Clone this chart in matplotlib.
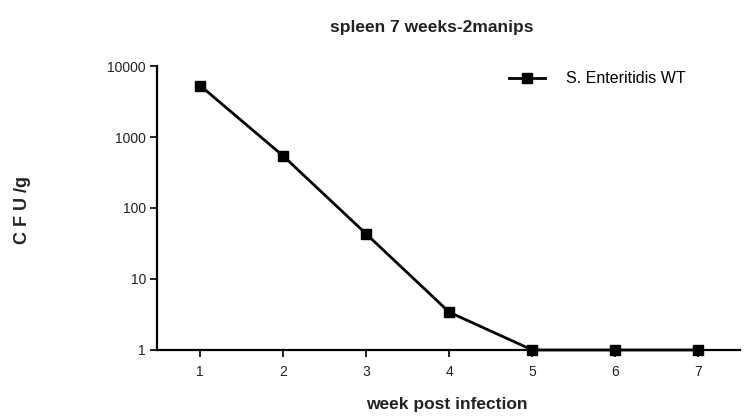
import matplotlib.pyplot as plt
import numpy as np

plt.rcParams['font.family'] = ['Liberation Sans', 'DejaVu Sans']

# data
weeks = [1, 2, 3, 4, 5, 6, 7]
cfu = [5300, 540, 43, 3.4, 1, 1, 1]
series_name = 'S. Enteritidis WT'
yticks = [1, 10, 100, 1000, 10000]
ytick_labels = ['1', '10', '100', '1000', '10000']

fig = plt.figure(figsize=(7.49, 4.17), dpi=100)
ax = fig.add_axes([0.2096, 0.1607, 0.7784, 0.681])

ax.plot(weeks, cfu, color='black', linewidth=2, marker='s', markersize=7,
        label=series_name, clip_on=False, zorder=3)

ax.set_yscale('log')
ax.set_ylim(1, 10000)
ax.set_xlim(0.48, 7.5)
ax.set_yticks(yticks)
ax.set_yticklabels(ytick_labels)
ax.minorticks_off()
ax.set_xticks(weeks)

for s in ['top', 'right']:
    ax.spines[s].set_visible(False)
ax.spines['left'].set_linewidth(1.6)
ax.spines['bottom'].set_linewidth(1.6)
ax.tick_params(axis='both', direction='out', length=5, width=1.4, labelsize=10,
               colors='#222222')
ax.tick_params(axis='x', pad=6)
ax.tick_params(axis='y', pad=3)

leg = ax.legend(loc='center left', frameon=False, fontsize=11.5, handlelength=2.3,
                bbox_to_anchor=(0.660, 0.8106), bbox_transform=fig.transFigure,
                handletextpad=1.3)

fig.text(0.577, 0.933, 'spleen 7 weeks-2manips', ha='center', va='center',
         fontsize=12.5, fontweight='bold', color='#222222')
fig.text(0.597, 0.03, 'week post infection', ha='center', va='center',
         fontsize=12.5, fontweight='bold', color='#222222')
fig.text(0.03, 0.497, 'C F U /g', ha='center', va='center', rotation=90,
         fontsize=13, fontweight='bold', color='#222222')

fig.savefig('out.png', dpi=100)
